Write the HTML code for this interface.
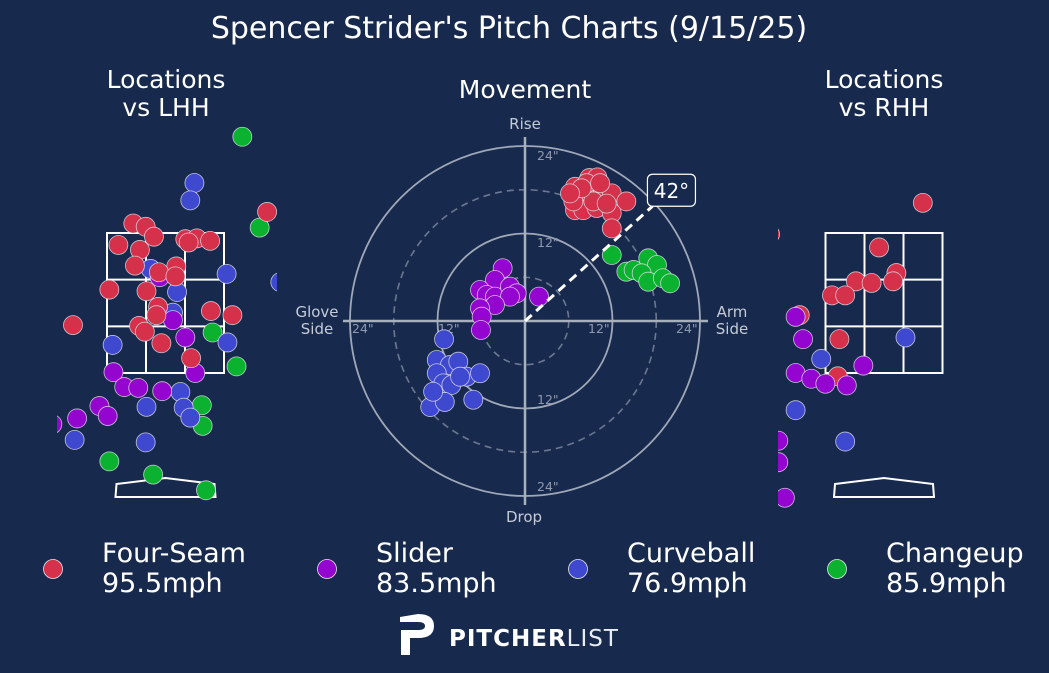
<!DOCTYPE html>
<html><head><meta charset="utf-8">
<style>
html,body{margin:0;padding:0;background:#172a4d;}
svg{display:block;font-family:"DejaVu Sans","Liberation Sans",sans-serif;}
</style></head>
<body>
<svg id="chart" width="1049" height="673" viewBox="0 0 1049 673" xmlns="http://www.w3.org/2000/svg">
<rect width="1049" height="673" fill="#172a4d"/>
<defs>
<clipPath id="clipL"><rect x="57" y="60" width="220" height="450"/></clipPath>
<clipPath id="clipR"><rect x="778" y="60" width="215" height="450"/></clipPath>
</defs>
<text x="509" y="38" fill="#fff" font-size="30" text-anchor="middle">Spencer Strider's Pitch Charts (9/15/25)</text>
<text x="166" y="88" fill="#fff" font-size="25" text-anchor="middle">Locations</text>
<text x="166" y="116" fill="#fff" font-size="25" text-anchor="middle">vs LHH</text>
<text x="525" y="98" fill="#fff" font-size="25" text-anchor="middle">Movement</text>
<text x="884" y="88" fill="#fff" font-size="25" text-anchor="middle">Locations</text>
<text x="884" y="116" fill="#fff" font-size="25" text-anchor="middle">vs RHH</text>
<g id="left" clip-path="url(#clipL)"></g>
<g id="right" clip-path="url(#clipR)"></g>
<g id="move"></g>
<g id="legend"></g>
<g>
<path d="M400 617 L418 614 Q434 614 434 626 Q434 638 418 638 L410 638 L410 655 L401 655 L401 630 L418 630 Q425 630 425 626 Q425 622 418 622 L400 622 Z" fill="#fff"/>
<text x="449" y="646" fill="#fff" font-size="23" font-weight="bold" letter-spacing="1">PITCHER<tspan font-weight="normal" fill="#e8ecf3">LIST</tspan></text>
</g>
</svg>
<script>
// ---- data ----
const pitchTypes = ["Four-Seam","Slider","Curveball","Changeup"];
const pitchSpeeds = ["95.5mph","83.5mph","76.9mph","85.9mph"];
const pitchColors = ["#d5314b","#9405cf","#3f49cf","#0bb22f"];
// LHH locations (plate_x ft, plate_z ft)
const lhhType = [3,3,3,3,3,3,3,3,3, 2,2,2,2,2,2,2,2,2,2,2,2,2,2,2, 1,1,1,1,1,1,1,1,1,1,1,1, 0,0,0,0,0,0,0,0,0,0,0,0,0,0,0,0,0,0,0,0,0,0,0,0,0];
const lhhX = [0.93,1.14,0.57,0.86,0.44,0.45,-0.68,-0.15,0.49, 0.35,0.30,-0.18,0.74,0.14,0.09,1.39,-0.64,0.75,0.18,0.22,0.30,-0.23,-1.10,-0.24, -0.07,0.09,0.24,-0.63,0.36,-0.50,-0.33,-0.04,-0.80,-0.70,-1.07,-1.37, 1.23,-0.39,-0.24,-0.14,-0.57,-0.31,-0.37,0.24,0.38,0.28,0.54,0.13,-0.08,0.12,-0.68,-0.23,-0.09,-0.11,0.55,0.81,-1.12,-0.32,-0.25,-0.05,0.31];
const lhhZ = [4.36,3.26,1.99,1.58,1.11,0.86,0.43,0.27,0.08, 3.80,3.59,2.76,2.70,2.48,2.23,2.60,1.84,1.87,1.27,1.08,0.96,1.09,0.69,0.66, 2.66,2.14,1.93,1.51,1.50,1.33,1.32,1.28,1.10,0.98,0.95,0.88, 3.45,3.31,3.27,3.15,3.05,2.99,2.80,3.12,3.13,3.08,3.10,2.79,2.72,2.67,2.51,2.49,2.30,2.20,2.25,2.20,2.08,2.07,2.00,1.86,1.68];
// RHH locations
const rhhType = [0,0,0,0,0,0,0,0,0,0,0,0, 1,1,1,1,1,1,1,1,1,1, 2,2,2,2];
const rhhX = [0.47,-0.06,0.15,0.11,-0.34,-0.15,-0.63,-0.47,-1.02,-0.54,-0.56,-1.38, -1.07,-0.98,-1.07,-0.88,-0.71,-0.45,-0.25,-1.28,-1.28,-1.20, 0.26,-0.76,-1.07,-0.47];
const rhhZ = [3.56,3.02,2.71,2.61,2.61,2.59,2.44,2.44,2.20,1.91,1.46,3.18, 2.18,1.91,1.50,1.43,1.37,1.35,1.59,0.68,0.42,-0.01, 1.93,1.67,1.05,0.67];
// Movement (horizontal break in, induced vertical break in)
const mvType = [0,0,0,0,0,0,0,0,0,0,0,0,0,0,0,0,0,0,0,0, 3,3,3,3,3,3,3,3,3, 1,1,1,1,1,1,1,1,1,1,1,1,1, 2,2,2,2,2,2,2,2,2,2,2,2,2,2];
const mvHB = [6.86,8.82,9.92,7.54,8.92,10.7,11.9,13.9,6.86,8.0,9.83,11.9,11.9,9.37,6.63,8.46,11.2,7.77,10.3,6.17, 11.9,13.9,14.9,16.9,18.1,16.0,16.9,18.9,19.9, -3.06,-4.12,-6.17,-5.25,-4.12,-2.06,-1.14,-2.06,-4.12,-6.17,-5.94,-6.04,1.92, -11.1,-12.1,-10.3,-9.15,-12.1,-11.2,-10.1,-8.0,-6.17,-13.0,-11.0,-7.09,-12.6,-8.9];
const mvIVB = [18.4,19.6,19.7,17.1,17.5,17.7,17.5,16.4,15.2,15.2,15.5,14.8,12.7,16.4,16.4,18.9,16.1,18.2,18.9,17.5, 9.05,6.76,7.0,8.6,7.68,6.54,5.39,5.86,5.17, 7.23,5.62,4.25,3.57,3.34,4.71,3.80,3.34,2.19,1.74,0.59,-1.23,3.34, -2.51,-5.35,-6.04,-5.58,-7.17,-8.55,-8.78,-7.64,-7.17,-11.8,-11.1,-10.8,-9.7,-7.64];
const armAngle = [42];
const ringTicks = [6,12,18,24];

const NS="http://www.w3.org/2000/svg";
function mk(parent,tag,attrs){const e=document.createElementNS(NS,tag);for(const k in attrs)e.setAttribute(k,attrs[k]);parent.appendChild(e);return e;}
const R=9.5;
const PX=82.6;
function sxL(x){return 165.5+x*PX;}
function sxR(x){return 884+x*PX;}
function sz(z){return 373-(z-1.5)*PX;}
function zone(g,cx){
  const w=117,h=140,x0=cx-w/2,y0=233;
  const r=mk(g,'rect',{x:x0,y:y0,width:w,height:h,fill:'none',stroke:'#fff','stroke-width':2});
  
  
  for(let i=1;i<3;i++){
    mk(g,'line',{x1:x0+w*i/3,y1:y0,x2:x0+w*i/3,y2:y0+h,stroke:'#fff','stroke-width':2});
    mk(g,'line',{x1:x0,y1:y0+h*i/3,x2:x0+w,y2:y0+h*i/3,stroke:'#fff','stroke-width':2});
  }
  const p=mk(g,'path',{d:`M${cx-49} 484 L${cx} 478 L${cx+49} 484 L${cx+50} 497 L${cx-50} 497 Z`,fill:'none',stroke:'#fff','stroke-width':2});
  
  
}
function dot(g,x,y,t){
  const c=mk(g,'circle',{cx:x,cy:y,r:R,fill:pitchColors[t],stroke:'#e6e6ee','stroke-width':0.8,'stroke-opacity':0.8});
  
  
}
const L=document.getElementById('left'),Rg=document.getElementById('right');
zone(L,165.5);zone(Rg,884);
for(let i=0;i<lhhX.length;i++)dot(L,sxL(lhhX[i]),sz(lhhZ[i]),lhhType[i]);
for(let i=0;i<rhhX.length;i++)dot(Rg,sxR(rhhX[i]),sz(rhhZ[i]),rhhType[i]);

const M=document.getElementById('move');
const CX=525,CY=321,K=175/24;
function mx(v){return CX+v*K;}
function my(v){return CY-v*K;}
ringTicks.forEach(t=>{
  const dashed=(t%12!==0);
  const c=mk(M,'circle',{cx:CX,cy:CY,r:t*K,fill:'none',stroke:dashed?'#6b7890':'#a0a8b8','stroke-width':dashed?1.6:1.8});
  if(dashed)c.setAttribute('stroke-dasharray','7,5');
  
  
});
mk(M,'line',{x1:CX,y1:137,x2:CX,y2:505,stroke:'#a8afbd','stroke-width':2.5});
mk(M,'line',{x1:343,y1:CY,x2:708,y2:CY,stroke:'#a8afbd','stroke-width':2.5});
const lab=[[537,160,'24"','start'],[537,247,'12"','start'],[537,404,'12"','start'],[537,491,'24"','start'],[352,333,'24"','start'],[438,333,'12"','start'],[588,333,'12"','start'],[676,333,'24"','start']];
lab.forEach(a=>{const t=mk(M,'text',{x:a[0],y:a[1],fill:'#8f99ad','font-size':12.5,'text-anchor':a[3]});t.textContent=a[2];

});
[[525,129,'Rise'],[524,522,'Drop'],[317,317,'Glove'],[317,334,'Side'],[732,317,'Arm'],[732,334,'Side']].forEach(a=>{
  const t=mk(M,'text',{x:a[0],y:a[1],fill:'#c5cbd6','font-size':15,'text-anchor':'middle'});t.textContent=a[2];
  
  
});
for(let i=0;i<mvHB.length;i++)dot(M,mx(mvHB[i]),my(mvIVB[i]),mvType[i]);
const ang=armAngle[0]*Math.PI/180, len=24*K;
const ex=CX+len*Math.cos(ang)*0.98, ey=CY-len*Math.sin(ang)*0.98;
const al=mk(M,'line',{x1:CX,y1:CY,x2:ex,y2:ey,stroke:'#fff','stroke-width':3,'stroke-dasharray':'9,6'});


const box=mk(M,'rect',{x:ex-5,y:ey-32,width:48,height:32,rx:5,fill:'#172a4d',stroke:'#fff','stroke-width':1.2});


const at=mk(M,'text',{x:ex+19,y:ey-8,fill:'#fff','font-size':20,'text-anchor':'middle'});at.textContent=armAngle[0]+'°';



const G=document.getElementById('legend');
const lx=[53,327,578,837];
pitchTypes.forEach((p,i)=>{
  const c=mk(G,'circle',{cx:lx[i],cy:569,r:9.5,fill:pitchColors[i],stroke:'#e6e6ee','stroke-width':0.8});
  
  
  const t=mk(G,'text',{x:lx[i]+49,y:562,fill:'#fff','font-size':27});t.textContent=p;
  
  
  const s=mk(G,'text',{x:lx[i]+49,y:592,fill:'#fff','font-size':27});s.textContent=pitchSpeeds[i];
  
  
});
</script>
</body></html>
